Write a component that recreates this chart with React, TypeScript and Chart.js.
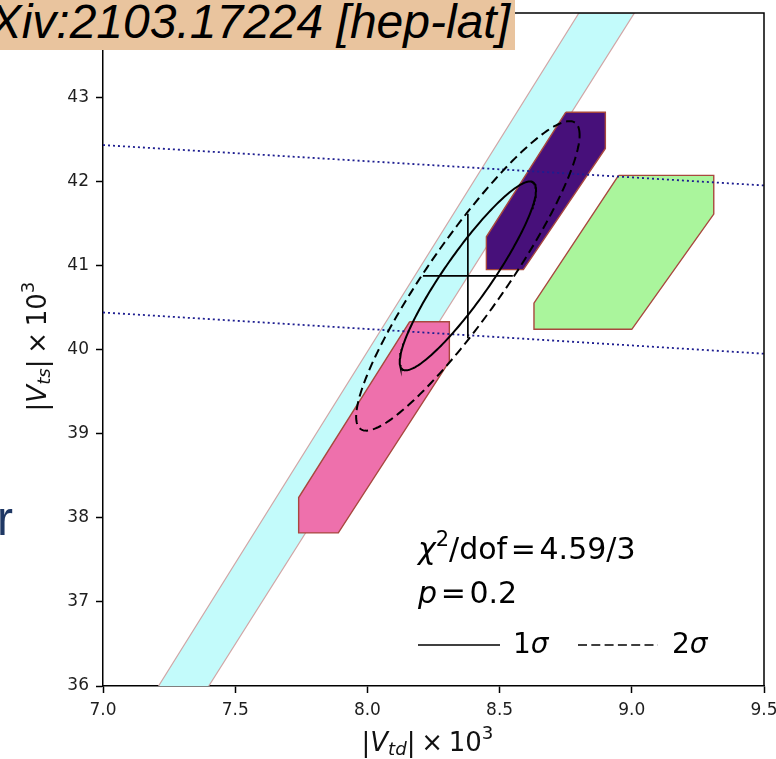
import React, { useEffect, useRef } from 'react';
import { Chart, registerables } from 'chart.js';

Chart.register(...registerables);

// ---- axes ----
const xRange = [7.0, 9.5];
const yRange = [36, 44];
const xTickStep = 0.5;
const yTickStep = 1;

// ---- cyan band (left edge bottom/top, right edge top/bottom) ----
const bandX = [7.21, 8.80, 9.01, 7.40];
const bandY = [36, 44, 44, 36];

// ---- hexagonal regions ----
const magentaX = [8.16, 8.31, 8.31, 7.89, 7.74, 7.74];
const magentaY = [40.33, 40.33, 39.86, 37.82, 37.82, 38.24];
const purpleX = [8.75, 8.90, 8.90, 8.59, 8.45, 8.45];
const purpleY = [42.82, 42.82, 42.39, 40.95, 40.95, 41.34];
const greenX = [8.95, 9.31, 9.31, 9.00, 8.63, 8.63];
const greenY = [42.07, 42.07, 41.61, 40.24, 40.24, 40.55];

// ---- dotted unitarity lines ----
const upperDotX = [7.0, 9.5];
const upperDotY = [42.43, 41.95];
const lowerDotX = [7.0, 9.5];
const lowerDotY = [40.44, 39.95];

// ---- fit result ----
const fitCenter = [8.38, 40.875];
const fitSigma = [0.17, 0.74];
const fitRho = 0.91;
const chi2Levels = [2.30, 6.18];

const pts = (xs: number[], ys: number[], close = false) => {
  const p = xs.map((x, i) => ({ x, y: ys[i] }));
  if (close) p.push({ ...p[0] });
  return p;
};

function ellipsePoints(level: number) {
  const k = Math.sqrt(level);
  const [cx, cy] = fitCenter;
  const [sx, sy] = fitSigma;
  const q = Math.sqrt(1 - fitRho * fitRho);
  const out: { x: number; y: number }[] = [];
  for (let i = 0; i <= 200; i++) {
    const t = (i / 200) * 2 * Math.PI;
    out.push({
      x: cx + k * sx * Math.cos(t),
      y: cy + k * sy * (fitRho * Math.cos(t) + q * Math.sin(t)),
    });
  }
  return out;
}

type Part = { t: string; it?: boolean; sc?: number; dy?: number; pre?: number };
const FAM = '"DejaVu Sans"';

function drawParts(
  ctx: CanvasRenderingContext2D,
  parts: Part[],
  x: number,
  y: number,
  size: number,
  align: 'left' | 'center'
) {
  const fontOf = (p: Part) => `${p.it ? 'italic ' : ''}${size * (p.sc || 1)}px ${FAM}`;
  const widths = parts.map((p) => {
    ctx.font = fontOf(p);
    return ctx.measureText(p.t).width + (p.pre || 0) * size;
  });
  const total = widths.reduce((a, b) => a + b, 0);
  let cx = align === 'center' ? x - total / 2 : x;
  ctx.textAlign = 'left';
  ctx.textBaseline = 'alphabetic';
  parts.forEach((p, i) => {
    ctx.font = fontOf(p);
    ctx.fillText(p.t, cx + (p.pre || 0) * size, y + (p.dy || 0) * size);
    cx += widths[i];
  });
}

const decorPlugin = {
  id: 'decor',
  afterDraw(chart: any) {
    const ctx: CanvasRenderingContext2D = chart.ctx;
    const { left, right, top, bottom } = chart.chartArea;
    ctx.save();
    // frame top & right
    ctx.strokeStyle = '#000';
    ctx.lineWidth = 1.5;
    ctx.beginPath();
    ctx.moveTo(left, top);
    ctx.lineTo(right, top);
    ctx.lineTo(right, bottom);
    ctx.stroke();

    ctx.fillStyle = '#111';
    // x axis label
    drawParts(
      ctx,
      [
        { t: '|' },
        { t: 'V', it: true },
        { t: 'td', it: true, sc: 0.7, dy: 0.16 },
        { t: '|' },
        { t: '×', pre: 0.22 },
        { t: '10', pre: 0.22 },
        { t: '3', sc: 0.7, dy: -0.45 },
      ],
      (left + right) / 2 - 6,
      751,
      26,
      'center'
    );
    // y axis label
    ctx.save();
    ctx.translate(46, (top + bottom) / 2 - 3);
    ctx.rotate(-Math.PI / 2);
    drawParts(
      ctx,
      [
        { t: '|' },
        { t: 'V', it: true },
        { t: 'ts', it: true, sc: 0.7, dy: 0.16 },
        { t: '|' },
        { t: '×', pre: 0.22 },
        { t: '10', pre: 0.22 },
        { t: '3', sc: 0.7, dy: -0.45 },
      ],
      0,
      0,
      26,
      'center'
    );
    ctx.restore();

    // annotation block
    ctx.fillStyle = '#000';
    const fs = 30;
    drawParts(
      ctx,
      [
        { t: 'χ', it: true },
        { t: '2', sc: 0.7, dy: -0.42 },
        { t: '/dof' },
        { t: '=', pre: 0.12 },
        { t: '4.59/3', pre: 0.12 },
      ],
      418,
      559,
      fs,
      'left'
    );
    drawParts(
      ctx,
      [
        { t: 'p', it: true },
        { t: '=', pre: 0.12 },
        { t: '0.2', pre: 0.12 },
      ],
      418,
      603,
      fs,
      'left'
    );
    drawParts(ctx, [{ t: '1' }, { t: 'σ', it: true }], 513, 653, 28, 'left');
    drawParts(ctx, [{ t: '2' }, { t: 'σ', it: true }], 672, 653, 28, 'left');
    ctx.strokeStyle = '#000';
    ctx.lineWidth = 1.4;
    ctx.beginPath();
    ctx.moveTo(418, 645);
    ctx.lineTo(500, 645);
    ctx.stroke();
    ctx.setLineDash([9, 4.3]);
    ctx.beginPath();
    ctx.moveTo(578, 645);
    ctx.lineTo(658, 645);
    ctx.stroke();
    ctx.restore();
  },
};

const EDGE = '#a8483e';

export default function App() {
  const ref = useRef<HTMLCanvasElement>(null);
  useEffect(() => {
    const line = { showLine: true, pointRadius: 0, tension: 0 } as const;
    const chart = new Chart(ref.current!, {
      type: 'scatter',
      data: {
        datasets: [
          {
            ...line,
            label: 'band',
            data: pts(bandX, bandY),
            fill: 'shape',
            backgroundColor: '#c3fbfb',
            borderColor: 'rgba(206,150,150,0.85)',
            borderWidth: 1.2,
            order: 10,
          },
          {
            ...line,
            label: 'magenta',
            data: pts(magentaX, magentaY, true),
            fill: 'shape',
            backgroundColor: '#ee70ac',
            borderColor: EDGE,
            borderWidth: 1.4,
            order: 9,
          },
          {
            ...line,
            label: 'purple',
            data: pts(purpleX, purpleY, true),
            fill: 'shape',
            backgroundColor: '#47107a',
            borderColor: EDGE,
            borderWidth: 1.4,
            order: 9,
          },
          {
            ...line,
            label: 'green',
            data: pts(greenX, greenY, true),
            fill: 'shape',
            backgroundColor: '#aaf59c',
            borderColor: EDGE,
            borderWidth: 1.4,
            order: 9,
          },
          {
            ...line,
            label: 'upper',
            data: pts(upperDotX, upperDotY),
            borderColor: '#1d1d90',
            borderWidth: 1.8,
            borderDash: [2, 3],
            order: 7,
          },
          {
            ...line,
            label: 'lower',
            data: pts(lowerDotX, lowerDotY),
            borderColor: '#1d1d90',
            borderWidth: 1.8,
            borderDash: [2, 3],
            order: 7,
          },
          {
            ...line,
            label: '2sigma',
            data: ellipsePoints(chi2Levels[1]),
            borderColor: '#000',
            borderWidth: 2,
            borderDash: [9, 5],
            order: 5,
          },
          {
            ...line,
            label: '1sigma',
            data: ellipsePoints(chi2Levels[0]),
            borderColor: '#000',
            borderWidth: 2,
            order: 5,
          },
          {
            ...line,
            label: 'errx',
            data: [
              { x: fitCenter[0] - fitSigma[0], y: fitCenter[1] },
              { x: fitCenter[0] + fitSigma[0], y: fitCenter[1] },
            ],
            borderColor: '#000',
            borderWidth: 1.7,
            order: 3,
          },
          {
            ...line,
            label: 'erry',
            data: [
              { x: fitCenter[0], y: fitCenter[1] - fitSigma[1] },
              { x: fitCenter[0], y: fitCenter[1] + fitSigma[1] },
            ],
            borderColor: '#000',
            borderWidth: 1.7,
            order: 3,
          },
        ] as any,
      },
      options: {
        responsive: false,
        devicePixelRatio: 1,
        animation: false,
        events: [],
        layout: { padding: { top: 13, right: 12, bottom: 0, left: 0 } },
        plugins: { legend: { display: false }, tooltip: { enabled: false } },
        scales: {
          x: {
            type: 'linear',
            min: xRange[0],
            max: xRange[1],
            ticks: {
              stepSize: xTickStep,
              autoSkip: false,
              maxRotation: 0,
              padding: 7,
              color: '#1e1e1e',
              font: { family: 'DejaVu Sans', size: 17 },
              callback: (v: any) => Number(v).toFixed(1),
            },
            grid: {
              display: true,
              drawOnChartArea: false,
              drawTicks: true,
              tickLength: 7,
              tickWidth: 1.5,
              tickColor: '#000',
            },
            border: { display: true, color: '#000', width: 1.5 },
            afterFit: (s: any) => {
              s.height = 73;
              s.paddingLeft = 0;
              s.paddingRight = 0;
            },
          },
          y: {
            type: 'linear',
            min: yRange[0],
            max: yRange[1],
            ticks: {
              stepSize: yTickStep,
              autoSkip: false,
              padding: 7,
              color: '#1e1e1e',
              font: { family: 'DejaVu Sans', size: 17 },
            },
            grid: {
              display: true,
              drawOnChartArea: false,
              drawTicks: true,
              tickLength: 7,
              tickWidth: 1.5,
              tickColor: '#000',
            },
            border: { display: true, color: '#000', width: 1.5 },
            afterFit: (s: any) => {
              s.width = 103;
              s.paddingTop = 0;
              s.paddingBottom = 0;
            },
          },
        },
      } as any,
      plugins: [decorPlugin],
    });
    return () => chart.destroy();
  }, []);

  return (
    <div
      style={{
        position: 'absolute',
        left: 0,
        top: 0,
        width: 776,
        height: 759,
        overflow: 'hidden',
        background: '#fff',
      }}
    >
      <canvas ref={ref} width={776} height={759} style={{ display: 'block', width: 776, height: 759 }} />
      <div
        style={{
          position: 'absolute',
          left: 0,
          top: 0,
          width: 515,
          height: 50,
          background: '#e9c49e',
          overflow: 'hidden',
        }}
      >
        <span
          style={{
            position: 'absolute',
            right: 5,
            top: -3,
            font: 'italic 48px "Liberation Sans"',
            lineHeight: '50px',
            whiteSpace: 'nowrap',
            color: '#000',
          }}
        >
          arXiv:2103.17224 [hep-lat]
        </span>
      </div>
      <div
        style={{
          position: 'absolute',
          left: -3,
          top: 495,
          font: '48px "Liberation Sans"',
          lineHeight: '48px',
          color: '#1f3864',
        }}
      >
        r
      </div>
    </div>
  );
}
